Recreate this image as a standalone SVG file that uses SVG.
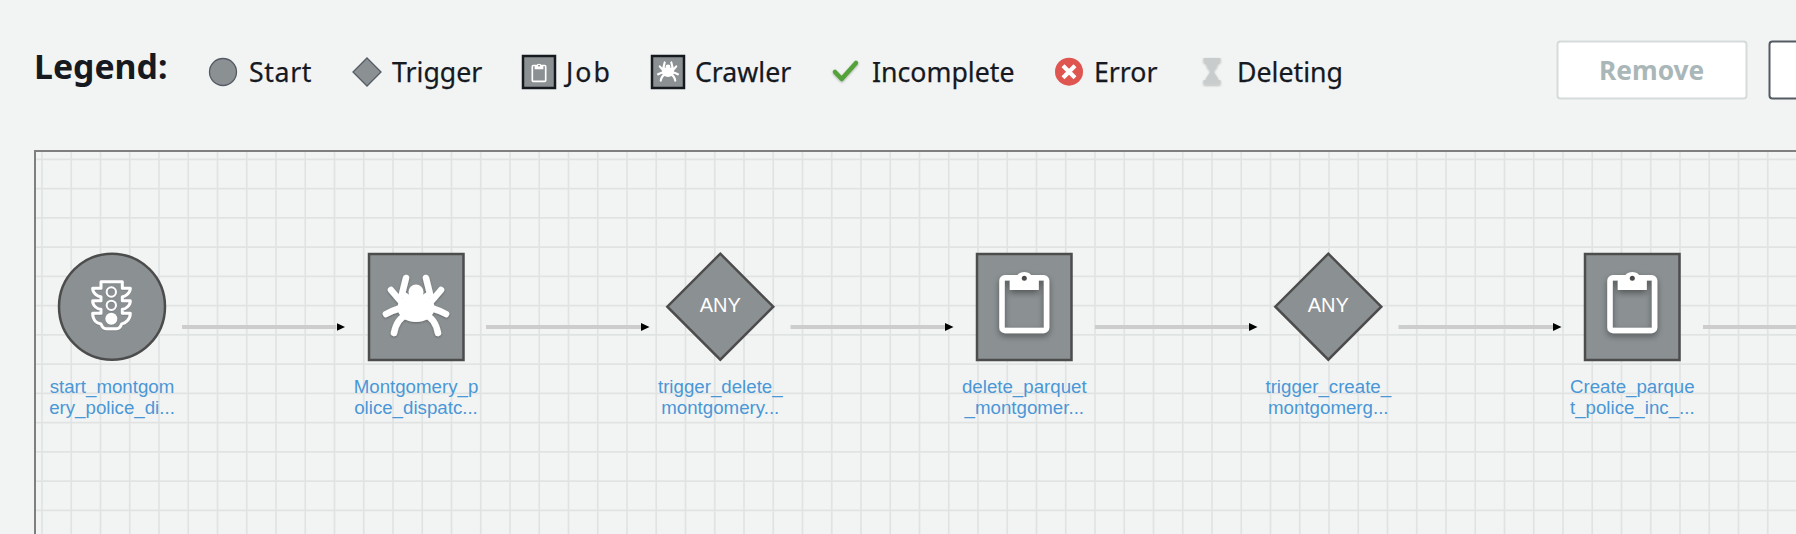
<svg xmlns="http://www.w3.org/2000/svg" width="1796" height="534" viewBox="0 0 1796 534">
<style>
.bg{fill:#f2f4f4}
.lg{font-family:"Noto Sans","Open Sans",sans-serif;font-size:26.7px;fill:#16191f;stroke:#16191f;stroke-width:.25}
.lgt{font-family:"Noto Sans","Open Sans",sans-serif;font-size:33.800px;font-weight:700;fill:#16191f}
.lbl{font-family:"Liberation Sans",Arial,sans-serif;font-size:18.700px;fill:#4a97d6;text-anchor:middle}
.any{font-family:"Liberation Sans",Arial,sans-serif;font-size:20px;fill:#fff;text-anchor:middle}
.node{fill:#8b9092;stroke:#4c4c4c;stroke-width:2.5}
.lgn{fill:#8b9092;stroke:#545b64;stroke-width:1.3}
.lgb{fill:#8b9092;stroke:#16191f;stroke-width:2.5}
.edge{stroke:#cdcdcd;stroke-width:4;fill:none;marker-end:url(#arr)}
.clip{fill:none;stroke:#fff;stroke-width:5.5;stroke-linejoin:round}
</style>
<defs>
<marker id="arr" markerUnits="userSpaceOnUse" markerWidth="10" markerHeight="10" refX="0" refY="5" orient="auto"><path d="M0 1L8.500 5L0 9Z" fill="#000"/></marker>
<filter id="sh" x="-30%" y="-30%" width="160%" height="170%"><feDropShadow dx="0" dy="3" stdDeviation="3" flood-color="#000" flood-opacity=".4"/></filter>
<filter id="shs" x="-30%" y="-30%" width="160%" height="170%"><feDropShadow dx="0" dy="1" stdDeviation="1" flood-color="#000" flood-opacity=".3"/></filter>
<g id="clipboard">
<rect class="clip" x="-22.300" y="-27.300" width="44.600" height="52.800" rx="3"/>
<path fill="#fff" d="M-14.500 -27H-8.500A9 9 0 0 1 8.500 -27H14.500V-15H-14.500Z"/>
<circle cx="0" cy="-26.700" r="2.500" fill="#4c4c4c"/>
</g>
<g id="spider" fill="none" stroke="#fff" stroke-width="6.500" stroke-linecap="round" stroke-linejoin="round">
<path d="M-10 -29L-14 -13L-6 -8M10 -29L14 -13L6 -8M-25 -17L-13 -3M25 -17L13 -3M-30 7Q-17 0 -6 0M30 7Q17 0 6 0M-22 26Q-19 11 -9 8M22 26Q19 11 9 8"/>
<circle cx="0" cy="-15" r="7.500" fill="#fff" stroke="none"/>
<ellipse cx="0" cy="1" rx="18.500" ry="14" fill="#fff" stroke="none"/>
</g>
</defs>
<rect class="bg" width="1796" height="534"/>
<g id="legend">
<text class="lgt" x="34" y="79">Legend:</text>
<circle class="lgn" cx="223" cy="72" r="13.500"/>
<text class="lg" x="249" y="81.500" textLength="62.500">Start</text>
<path class="lgn" d="M367 58L381 72L367 86L353 72Z"/>
<text class="lg" x="392" y="81.500">Trigger</text>
<rect class="lgb" x="523" y="56" width="32" height="32"/>
<g transform="translate(539 73.700) scale(.3)"><use href="#clipboard"/></g>
<text class="lg" x="566" y="81.500" textLength="44">Job</text>
<rect class="lgb" x="652" y="56" width="32" height="32"/>
<g transform="translate(668 72) scale(.33)"><use href="#spider"/></g>
<text class="lg" x="695" y="81.500">Crawler</text>
<path d="M835 72L841.700 79L856 63" fill="none" stroke="#55a13a" stroke-width="4.500" stroke-linecap="round" stroke-linejoin="round" filter="url(#shs)"/>
<text class="lg" x="872" y="81.500">Incomplete</text>
<circle cx="1069" cy="71.700" r="14" fill="#df5550"/>
<path d="M1063 65.700L1075 77.700M1075 65.700L1063 77.700" stroke="#fff" stroke-width="4.200"/>
<text class="lg" x="1094" y="81.500">Error</text>
<path d="M1203.500 58H1220.500V62.500H1218C1218 67 1214 69 1214 71.500C1214 74 1218 76 1218 80H1220.500V84.500H1203.500V80H1206C1206 76 1210 74 1210 71.500C1210 69 1206 67 1206 62.500H1203.500Z" fill="#c9cccc" filter="url(#shs)"/>
<text class="lg" x="1237" y="81.500" textLength="106">Deleting</text>
</g>
<g id="buttons">
<rect x="1557.500" y="41.500" width="189" height="57" rx="3" fill="#fff" stroke="#d5dbdb" stroke-width="2"/>
<text x="1651.700" y="80" text-anchor="middle" font-family="'Noto Sans',sans-serif" font-size="26.300" font-weight="700" fill="#aab7b8">Remove</text>
<rect x="1769.500" y="41.500" width="60" height="57" rx="3" fill="#fff" stroke="#545b64" stroke-width="2"/>
</g>
<g id="canvas">
<line x1="41.150" y1="342.500" x2="1796" y2="342.500" stroke="#e1e3e3" stroke-width="383" stroke-dasharray="1.700 27.550"/>
<line x1="916" y1="158.450" x2="916" y2="534" stroke="#e1e3e3" stroke-width="1760" stroke-dasharray="1.700 27.550"/>
<path d="M35 534V151H1796" fill="none" stroke="#7f7f7f" stroke-width="2"/>
</g>
<g id="connectors">
<path class="edge" d="M182 327H336.500"/>
<path class="edge" d="M486 327H641"/>
<path class="edge" d="M790.500 327H945"/>
<path class="edge" d="M1095 327H1249"/>
<path class="edge" d="M1398.500 327H1553"/>
<path d="M1703 327H1796" stroke="#cdcdcd" stroke-width="4"/>
</g>
<g id="start_node">
<circle class="node" cx="112" cy="306.700" r="53"/>
<g transform="translate(20 230) scale(.3333)" filter="url(#shs)">
<path fill="none" stroke="#fff" stroke-width="9" stroke-linejoin="round" d="M243 155H307V175H331C331 190 315 200 307 200V212H331C331 228 315 238 307 238V250H331C331 270 315 280 305 282Q300 296 290 296H258Q248 296 243 282C230 280 218 270 218 250H243V238C233 238 218 228 218 212H243V200C233 200 218 190 218 175H243Z"/>
<circle cx="274" cy="186" r="14" fill="none" stroke="#fff" stroke-width="6"/>
<circle cx="274" cy="226" r="14" fill="none" stroke="#fff" stroke-width="6"/>
<circle cx="274" cy="266" r="18" fill="#fff"/>
</g>
<text class="lbl"><tspan x="112" y="393">start_montgom</tspan><tspan x="112" y="414.300">ery_police_di...</tspan></text>
</g>
<g id="crawler_node">
<rect class="node" x="369" y="254" width="94.500" height="106"/>
<g transform="translate(416 307)" filter="url(#shs)"><use href="#spider"/></g>
<text class="lbl"><tspan x="416" y="393">Montgomery_p</tspan><tspan x="416" y="414.300">olice_dispatc...</tspan></text>
</g>
<g id="trigger_delete_node">
<path class="node" d="M720.300 253.700L773.300 306.700L720.300 359.700L667.300 306.700Z"/>
<text class="any" x="720.300" y="311.700">ANY</text>
<text class="lbl"><tspan x="720.300" y="393">trigger_delete_</tspan><tspan x="720.300" y="414.300">montgomery...</tspan></text>
</g>
<g id="delete_parquet_node">
<rect class="node" x="977" y="254" width="94.500" height="106"/>
<g transform="translate(1024.300 305)" filter="url(#sh)"><use href="#clipboard"/></g>
<text class="lbl"><tspan x="1024.300" y="393">delete_parquet</tspan><tspan x="1024.300" y="414.300">_montgomer...</tspan></text>
</g>
<g id="trigger_create_node">
<path class="node" d="M1328.300 253.700L1381.300 306.700L1328.300 359.700L1275.300 306.700Z"/>
<text class="any" x="1328.300" y="311.700">ANY</text>
<text class="lbl"><tspan x="1328.300" y="393">trigger_create_</tspan><tspan x="1328.300" y="414.300">montgomerg...</tspan></text>
</g>
<g id="create_parquet_node">
<rect class="node" x="1585" y="254" width="94.500" height="106"/>
<g transform="translate(1632.300 305)" filter="url(#sh)"><use href="#clipboard"/></g>
<text class="lbl"><tspan x="1632.300" y="393">Create_parque</tspan><tspan x="1632.300" y="414.300">t_police_inc_...</tspan></text>
</g>
</svg>
